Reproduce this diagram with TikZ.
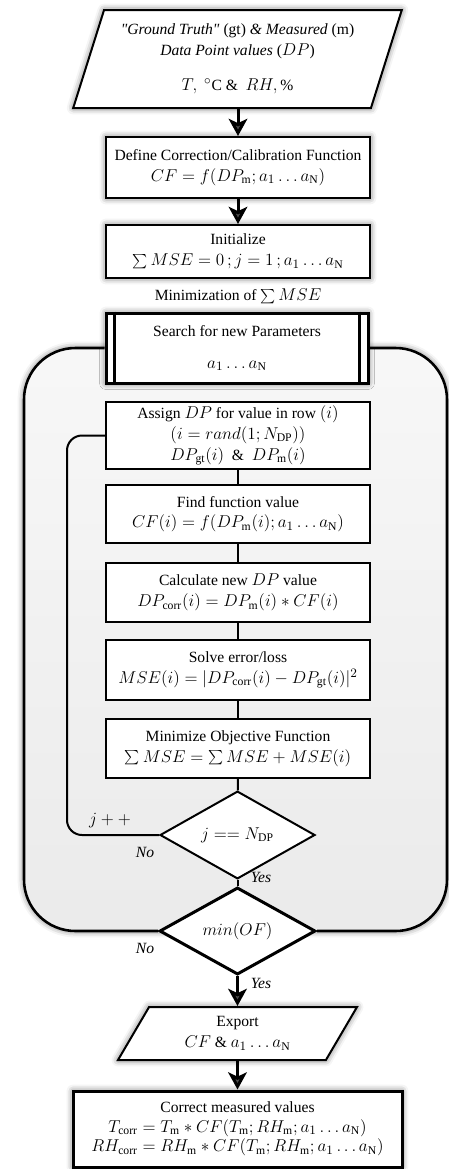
\documentclass[tikz,border=0pt,12pt]{standalone}
\usepackage{fontspec}
\setmainfont{Liberation Serif}[Scale=0.91]
\DeclareMathSizes{12}{12}{9}{7}
\usetikzlibrary{shapes.geometric,arrows.meta,shadows.blur}

\begin{document}
\begin{tikzpicture}[x=0.7pt,y=-0.7pt,>={Stealth[length=12pt,width=13pt,inset=3pt]},
  proc/.style={draw,line width=1.4pt,fill=white,minimum width=184.8pt,align=center,inner sep=2pt},
  shad/.style={blur shadow={shadow xshift=0pt,shadow yshift=0pt,shadow blur radius=4.5pt,shadow opacity=60}},
  io/.style={draw,trapezium,trapezium stretches body,line width=1.4pt,fill=white,align=center,inner sep=2pt},
  dec/.style={draw,diamond,line width=1.4pt,fill=white,align=center,inner sep=0pt},
  lab/.style={font=\itshape,inner sep=1pt},
  flow/.style={->,line width=2.1pt},
  link/.style={line width=1.4pt}]
  \useasboundingbox (0,0) rectangle (449,1169);
  % loop area
  \path[top color=gray!6,bottom color=gray!16,rounded corners=36pt,shad] (24,348) rectangle (447,931);
  \coordinate (cLoopL) at (24,640);
  \coordinate (cLoopR) at (447,640);
  \coordinate (cLoopJ) at (67,640);

  \node[io,shad,trapezium left angle=67.8,trapezium right angle=112.2,minimum width=230pt,minimum height=68.6pt] (nInput) at (237.5,59)
    {\textit{\textquotedbl Ground Truth\textquotedbl} (gt) \textit{\& Measured} (m)\\ \textit{Data Point values} ($DP$)\\[10pt] $T,\ {}^{\circ}\mathrm{C}$ \& \ $RH,\%$};
  \node[proc,shad,minimum height=42.7pt] (nDefine) at (238,167.5)
    {Define Correction/Calibration Function\\ $CF=f(DP_{\mathrm{m}};a_1\ldots a_{\mathrm{N}})$};
  \node[proc,shad,minimum height=37.1pt] (nInit) at (238,251.5)
    {Initialize\\ $\sum MSE=0\,;j=1\,;a_1\ldots a_{\mathrm{N}}$};
  \node[inner sep=1pt] (lMini) at (238,296) {Minimization of $\sum MSE$};
  \node[proc,shad,line width=2.1pt,minimum width=183.4pt,minimum height=49pt] (nSearch) at (237,348)
    {Search for new Parameters\\[8pt] $a_1\ldots a_{\mathrm{N}}$};
  \draw[line width=1.7pt] ([xshift=7pt]nSearch.north west) -- ([xshift=7pt]nSearch.south west);
  \draw[line width=1.7pt] ([xshift=-7pt]nSearch.north east) -- ([xshift=-7pt]nSearch.south east);

  % inner loop
  \node[proc,minimum height=46.9pt] (nAssign) at (238,435.5)
    {Assign $DP$ for value in row $(i)$\\ $(i=rand(1;N_{\mathrm{DP}}))$\\ $DP_{\mathrm{gt}}(i)$ \ \& \ $DP_{\mathrm{m}}(i)$};
  \node[proc,minimum height=40.6pt] (nFind) at (238,514)
    {Find function value\\ $CF(i)=f(DP_{\mathrm{m}}(i);a_1\ldots a_{\mathrm{N}})$};
  \node[proc,minimum height=41.3pt] (nCalc) at (238,592.5)
    {Calculate new $DP$ value\\ $DP_{\mathrm{corr}}(i)=DP_{\mathrm{m}}(i)*CF(i)$};
  \node[proc,minimum height=42pt] (nSolve) at (238,670)
    {Solve error/loss\\ $MSE(i)=|DP_{\mathrm{corr}}(i)-DP_{\mathrm{gt}}(i)|^2$};
  \node[proc,minimum height=41.3pt] (nMinimize) at (238,748.5)
    {Minimize Objective Function\\ $\sum MSE=\sum MSE+MSE(i)$};
  \node[dec,minimum width=108.5pt,minimum height=53.2pt] (nJ) at (237.5,835) {$j==N_{\mathrm{DP}}$};
  \node[dec,line width=2.1pt,minimum width=109.2pt,minimum height=57.4pt] (nMin) at (237.5,931) {$min(OF)$};

  \node[io,shad,trapezium left angle=51.6,trapezium right angle=128.4,minimum width=167.3pt,minimum height=37.1pt] (nExport) at (237.5,1033.5)
    {Export\\ $CF$ \& $a_1\ldots a_{\mathrm{N}}$};
  \node[proc,shad,line width=2.1pt,minimum width=230.3pt,minimum height=53.2pt] (nFinal) at (237.5,1129)
    {Correct measured values\\[-1pt] $T_{\mathrm{corr}}=T_{\mathrm{m}}*CF(T_{\mathrm{m}};RH_{\mathrm{m}};a_1\ldots a_{\mathrm{N}})$\\[-1pt] $RH_{\mathrm{corr}}=RH_{\mathrm{m}}*CF(T_{\mathrm{m}};RH_{\mathrm{m}};a_1\ldots a_{\mathrm{N}})$};

  \node[lab] (lJinc) at (110,821) {$j++$};
  \node[lab] (lJno) at (145,852) {No};
  \node[lab] (lJyes) at (261,877) {Yes};
  \node[lab] (lMinNo) at (145,948) {No};
  \node[lab] (lMinYes) at (261,983) {Yes};

  \draw[flow] (nDefine.north |- nInput.south) -- (nDefine.north);
  \draw[flow] (nDefine) -- (nInit);
  \draw[flow] (nMin.south) -- (nMin.south |- nExport.north);
  \draw[flow] (nFinal.north |- nExport.south) -- (nFinal.north);
  \foreach \a/\b in {nAssign/nFind,nFind/nCalc,nCalc/nSolve,nSolve/nMinimize,nMinimize/nJ,nJ/nMin}
    \draw[link] (\a) -- (\b);
  \draw[link,rounded corners=10.5pt] (nJ.west) -| (cLoopJ) |- (nAssign.west);
  \draw[line width=1.8pt,rounded corners=36pt] (nMin.west) -| (cLoopL) |- (nSearch.west);
  \draw[line width=1.8pt,rounded corners=36pt] (nMin.east) -| (cLoopR) |- (nSearch.east);
\end{tikzpicture}
\end{document}
